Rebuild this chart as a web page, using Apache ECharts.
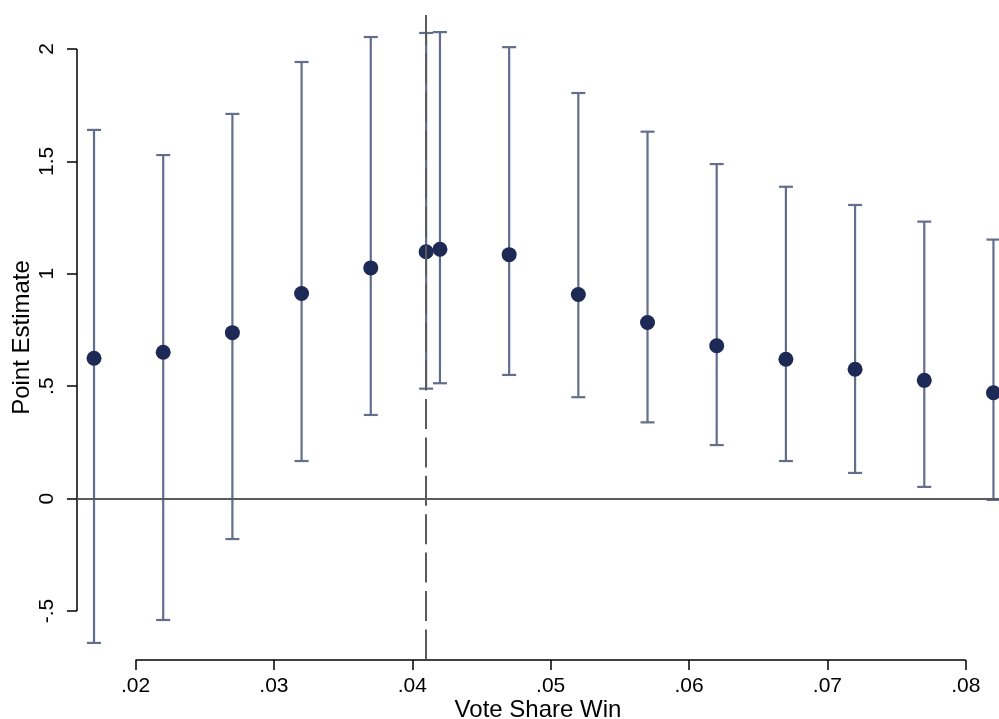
<!DOCTYPE html>
<html>
<head>
<meta charset="utf-8">
<script src="https://cdn.jsdelivr.net/npm/echarts@6/dist/echarts.min.js"></script>
<style>html,body{margin:0;padding:0;background:#fff;}#c{width:999px;height:719px;}</style>
</head>
<body>
<div id="c"></div>
<script>
const xValues = [0.017, 0.022, 0.027, 0.032, 0.037, 0.041, 0.042, 0.047, 0.052, 0.057, 0.062, 0.067, 0.072, 0.077, 0.082];
const pointEstimate = [0.624, 0.651, 0.738, 0.912, 1.026, 1.098, 1.109, 1.085, 0.908, 0.783, 0.680, 0.620, 0.575, 0.526, 0.471];
const ciUpper = [1.640, 1.528, 1.711, 1.942, 2.053, 2.071, 2.075, 2.008, 1.804, 1.632, 1.488, 1.387, 1.306, 1.232, 1.152];
const ciLower = [-0.642, -0.540, -0.180, 0.167, 0.372, 0.489, 0.513, 0.550, 0.451, 0.339, 0.238, 0.167, 0.114, 0.052, -0.006];
const xTicks = [0.02, 0.03, 0.04, 0.05, 0.06, 0.07, 0.08];
const yTicks = [-0.5, 0, 0.5, 1, 1.5, 2];
const cutoff = 0.041;

const X_MIN = 0.01577, X_MAX = 0.0824, Y_MIN = -0.718, Y_MAX = 2.151;
const FONT = '"Liberation Sans", Arial, sans-serif';
const BAR = '#636e8d', DOT = '#1c2a55', REF = '#5a5a5a';

function fmt(v) {
  if (v === 0) return '0';
  let s = String(+v.toFixed(3));
  return s.replace(/^(-?)0\./, '$1.');
}

const chart = echarts.init(document.getElementById('c'), null, {renderer: 'canvas'});
chart.setOption({
  animation: false,
  backgroundColor: '#fff',
  grid: {left: 77, right: 0, top: 15, bottom: 59, containLabel: false, outerBoundsMode: 'none'},
  xAxis: {
    type: 'value', min: X_MIN, max: X_MAX,
    name: 'Vote Share Win', nameLocation: 'middle', nameGap: 38, nameMoveOverlap: false,
    nameTextStyle: {fontFamily: FONT, fontSize: 24, color: '#000'},
    axisLine: {show: false, onZero: false},
    axisTick: {show: true, customValues: xTicks, length: 10, lineStyle: {color: '#000', width: 1.5}},
    axisLabel: {customValues: xTicks, formatter: fmt, margin: 16, fontFamily: FONT, fontSize: 21, color: '#000'},
    splitLine: {show: false}
  },
  yAxis: {
    type: 'value', min: Y_MIN, max: Y_MAX,
    name: 'Point Estimate', nameLocation: 'middle', nameGap: 43, nameMoveOverlap: false,
    nameTextStyle: {fontFamily: FONT, fontSize: 24, color: '#000'},
    axisLine: {show: false, onZero: false},
    axisTick: {show: true, customValues: yTicks, length: 10, lineStyle: {color: '#000', width: 1.5}},
    axisLabel: {customValues: yTicks, formatter: fmt, rotate: 90, margin: 19, fontFamily: FONT, fontSize: 21, color: '#000'},
    splitLine: {show: false}
  },
  series: [
    {
      type: 'line', data: [], silent: true,
      markLine: {
        symbol: 'none', silent: true, label: {show: false}, animation: false,
        data: [
          [{coord: [X_MIN, yTicks[yTicks.length - 1]], lineStyle: {color: '#000', width: 1.5, type: 'solid'}},
           {coord: [X_MIN, yTicks[0]]}],
          [{coord: [xTicks[0], Y_MIN], lineStyle: {color: '#000', width: 1.5, type: 'solid'}},
           {coord: [xTicks[xTicks.length - 1], Y_MIN]}],
          [{coord: [X_MIN, 0], lineStyle: {color: REF, width: 2, type: 'solid'}},
           {coord: [X_MAX, 0]}],
          [{coord: [cutoff, Y_MAX], lineStyle: {color: REF, width: 2, type: [30, 8.4]}},
           {coord: [cutoff, Y_MIN]}]
        ]
      }
    },
    {
      type: 'custom',
      data: xValues.map((x, i) => [x, ciLower[i], ciUpper[i]]),
      renderItem: function (params, api) {
        const lo = api.coord([api.value(0), api.value(1)]);
        const hi = api.coord([api.value(0), api.value(2)]);
        const hw = 7;
        const style = {stroke: BAR, lineWidth: 2.2};
        return {
          type: 'group',
          children: [
            {type: 'line', shape: {x1: lo[0], y1: lo[1], x2: hi[0], y2: hi[1]}, style: style},
            {type: 'line', shape: {x1: lo[0] - hw, y1: lo[1], x2: lo[0] + hw, y2: lo[1]}, style: style},
            {type: 'line', shape: {x1: hi[0] - hw, y1: hi[1], x2: hi[0] + hw, y2: hi[1]}, style: style}
          ]
        };
      },
      z: 3
    },
    {
      type: 'scatter',
      data: xValues.map((x, i) => [x, pointEstimate[i]]),
      symbol: 'circle', symbolSize: 15,
      itemStyle: {color: DOT, opacity: 1},
      z: 4
    }
  ]
});
</script>
</body>
</html>
